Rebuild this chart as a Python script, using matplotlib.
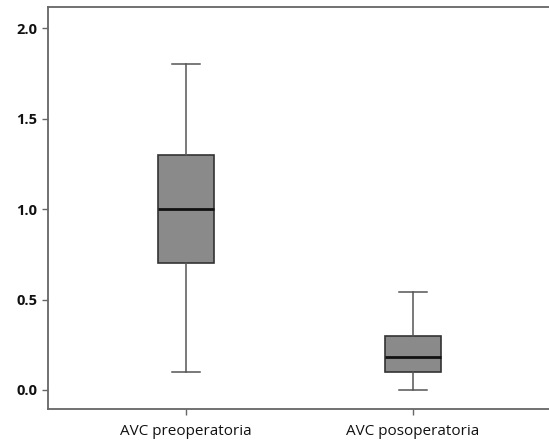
import matplotlib
matplotlib.use("Agg")
import matplotlib.pyplot as plt

categories = ["AVC preoperatoria", "AVC posoperatoria"]
whislo = [0.10, 0.00]
q1 = [0.70, 0.10]
med = [1.00, 0.18]
q3 = [1.30, 0.30]
whishi = [1.80, 0.54]
yticks = [0.0, 0.5, 1.0, 1.5, 2.0]

stats = [dict(label=c, whislo=a, q1=b, med=m, q3=d, whishi=e, fliers=[])
         for c, a, b, m, d, e in zip(categories, whislo, q1, med, q3, whishi)]

fig = plt.figure(figsize=(5.49, 4.41), dpi=100)
ax = fig.add_axes([0.0874, 0.0726, 0.9126, 0.911])
ax.bxp(stats, positions=[1, 2], widths=0.25, patch_artist=True,
       boxprops=dict(facecolor="#8a8a8a", edgecolor="#333333", linewidth=1.2),
       medianprops=dict(color="#111111", linewidth=2.0),
       whiskerprops=dict(color="#555555", linewidth=1.1),
       capprops=dict(color="#555555", linewidth=1.1),
       capwidths=0.125, showfliers=False)
ax.set_xlim(0.392, 2.599)
ax.set_ylim(-0.105, 2.116)
ax.set_yticks(yticks)
ax.set_yticklabels([f"{v:.1f}" for v in yticks], fontsize=10.5, fontweight="bold",
                   family="Open Sans")
ax.set_xticks([1, 2])
ax.set_xticklabels(categories, fontsize=11, family="Open Sans")
for s in ["left", "top", "bottom"]:
    ax.spines[s].set_color("#666666")
    ax.spines[s].set_linewidth(1.3)
ax.spines["right"].set_visible(False)
ax.tick_params(axis="both", colors="#666666", labelcolor="#111111", length=4, width=1)
ax.tick_params(axis="x", pad=7)
fig.savefig("out.png", dpi=100)
